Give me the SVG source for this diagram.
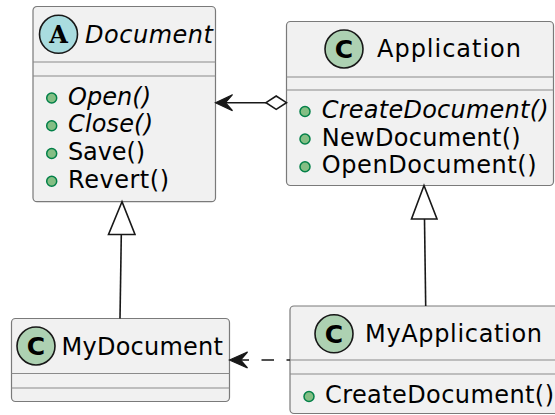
<svg xmlns="http://www.w3.org/2000/svg" width="555" height="415" viewBox="0 0 555 415">
<style>
.box{fill:#F1F1F1;stroke:#7a7a7a;stroke-width:1.2}
.sep{stroke:#8a8a8a;stroke-width:1.2}
.circ{stroke:#181818;stroke-width:1.6}
.t{font-family:"DejaVu Sans",sans-serif;font-size:24px;fill:#000}
.i{font-style:italic}
.bul{fill:#84BE84;stroke:#038048;stroke-width:1.5}
.lt{font-family:"DejaVu Sans",sans-serif;font-weight:bold;font-size:25px;fill:#000;text-anchor:middle}
.la{font-family:"DejaVu Serif",serif;font-weight:bold;font-size:24px;fill:#000;text-anchor:middle}
.edge{stroke:#181818;stroke-width:1.6;fill:none}
</style>
<g id="Document">
<rect class="box" x="33" y="6.5" width="182.5" height="195.2" rx="4"/>
<circle class="circ" cx="58.5" cy="34.3" r="19" fill="#A9DCDF"/>
<text class="la" x="58.5" y="43">A</text>
<text class="t i" x="85" y="42.8" textLength="128" lengthAdjust="spacing">Document</text>
<line class="sep" x1="33" x2="215.5" y1="62" y2="62"/>
<line class="sep" x1="33" x2="215.5" y1="76" y2="76"/>
<circle class="bul" cx="51.7" cy="98" r="5"/>
<text class="t i" x="68" y="104.5" textLength="83" lengthAdjust="spacing">Open()</text>
<circle class="bul" cx="51.7" cy="125.8" r="5"/>
<text class="t i" x="68" y="132.3" textLength="85" lengthAdjust="spacing">Close()</text>
<circle class="bul" cx="51.7" cy="153.5" r="5"/>
<text class="t" x="68" y="160" textLength="77" lengthAdjust="spacing">Save()</text>
<circle class="bul" cx="51.7" cy="181.3" r="5"/>
<text class="t" x="68" y="187.8" textLength="101" lengthAdjust="spacing">Revert()</text>
</g>
<g id="Application">
<rect class="box" x="286.5" y="21.5" width="267" height="164" rx="4"/>
<circle class="circ" cx="344" cy="49" r="19" fill="#ADD1B2"/>
<text class="lt" x="344" y="58">C</text>
<text class="t" x="377" y="57" textLength="144" lengthAdjust="spacing">Application</text>
<line class="sep" x1="286.5" x2="553.5" y1="77" y2="77"/>
<line class="sep" x1="286.5" x2="553.5" y1="90" y2="90"/>
<circle class="bul" cx="305" cy="111.5" r="5"/>
<text class="t i" x="321.7" y="118" textLength="227" lengthAdjust="spacing">CreateDocument()</text>
<circle class="bul" cx="305" cy="139" r="5"/>
<text class="t" x="321.7" y="145.5" textLength="199" lengthAdjust="spacing">NewDocument()</text>
<circle class="bul" cx="305" cy="166.7" r="5"/>
<text class="t" x="321.7" y="173.2" textLength="215" lengthAdjust="spacing">OpenDocument()</text>
</g>
<g id="MyDocument">
<rect class="box" x="11.5" y="318.5" width="218" height="83" rx="4"/>
<circle class="circ" cx="36" cy="346" r="19" fill="#ADD1B2"/>
<text class="lt" x="36" y="355">C</text>
<text class="t" x="61.5" y="354.5" textLength="161.5" lengthAdjust="spacing">MyDocument</text>
<line class="sep" x1="11.5" x2="229.5" y1="373.5" y2="373.5"/>
<line class="sep" x1="11.5" x2="229.5" y1="388" y2="388"/>
</g>
<g id="MyApplication">
<rect class="box" x="290" y="306" width="270" height="107.5" rx="4"/>
<circle class="circ" cx="334" cy="333.8" r="19" fill="#ADD1B2"/>
<text class="lt" x="334" y="342.8">C</text>
<text class="t" x="365" y="342.3" textLength="177" lengthAdjust="spacing">MyApplication</text>
<line class="sep" x1="290" x2="560" y1="360" y2="360"/>
<line class="sep" x1="290" x2="560" y1="374" y2="374"/>
<circle class="bul" cx="309" cy="396.5" r="5"/>
<text class="t" x="325" y="403" textLength="229" lengthAdjust="spacing">CreateDocument()</text>
</g>
<g id="connectors">
<line class="edge" x1="225" y1="102.7" x2="266" y2="102.7"/>
<polygon points="266,102.7 276.2,96 286.5,102.7 276.2,109.4" fill="#FFFFFF" stroke="#181818" stroke-width="1.6"/>
<polygon points="215.5,102.7 232.5,94.7 225.5,102.7 232.5,110.7" fill="#181818" stroke="#181818" stroke-width="1.2" stroke-linejoin="miter"/>
<line class="edge" x1="121.3" y1="234.5" x2="120" y2="318.5"/>
<polygon points="122,201.7 108.5,234.5 135,234.5" fill="#FFFFFF" stroke="#181818" stroke-width="1.6"/>
<line class="edge" x1="424.5" y1="219" x2="425.7" y2="306"/>
<polygon points="424,185.5 411.5,219 437,219" fill="#FFFFFF" stroke="#181818" stroke-width="1.6"/>
<line class="edge" x1="236.5" y1="360" x2="290" y2="360" stroke-dasharray="12.5 12.5"/>
<polygon points="229.5,360 247.5,352 240.5,360 247.5,368" fill="#181818" stroke="#181818" stroke-width="1.2"/>
</g>
</svg>
